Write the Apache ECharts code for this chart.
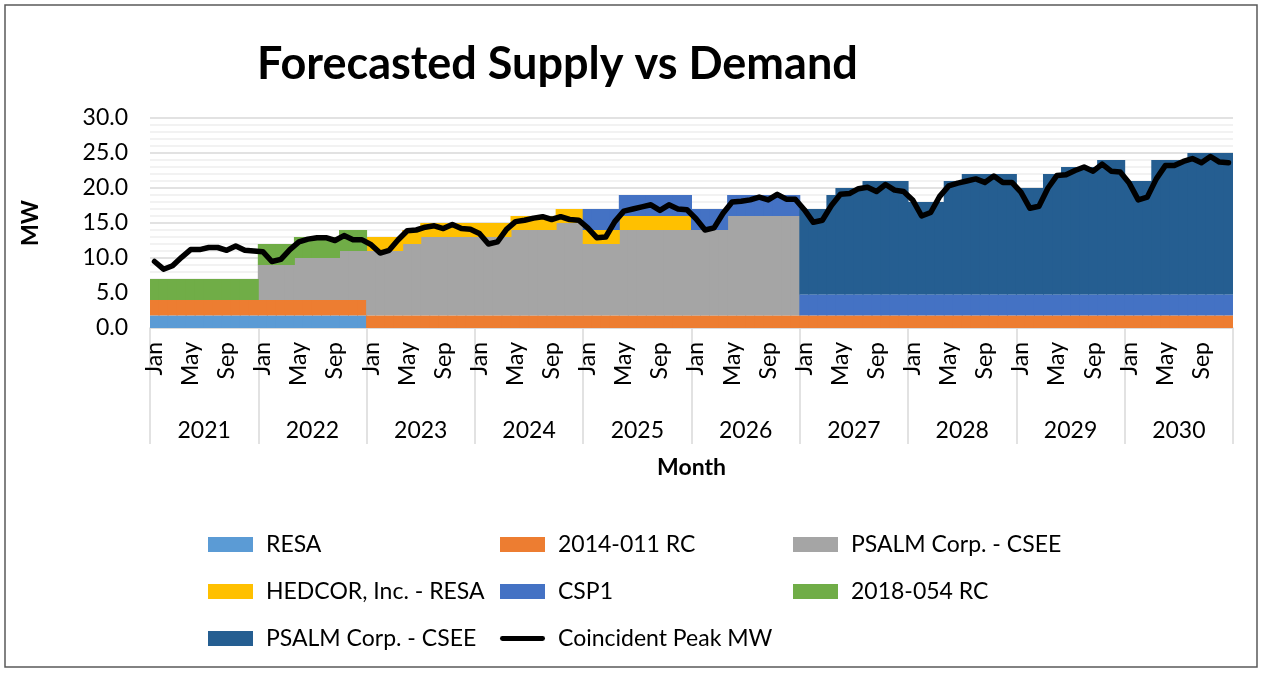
<!DOCTYPE html>
<html>
<head>
<meta charset="utf-8">
<script src="https://cdn.jsdelivr.net/npm/echarts@6/dist/echarts.min.js"></script>
<style>
  html, body { margin: 0; padding: 0; background: #fff; }
  #chart { width: 1263px; height: 673px; }
</style>
</head>
<body>
<div id="chart"></div>
<script>
// tick labels
var years = ['2021', '2022', '2023', '2024', '2025', '2026', '2027', '2028', '2029', '2030']
var monthNames = ['Jan', 'Feb', 'Mar', 'Apr', 'May', 'Jun', 'Jul', 'Aug', 'Sep', 'Oct', 'Nov', 'Dec']

// supply blocks, MW per month (one row per year)
var resa = [
  1.8, 1.8, 1.8, 1.8, 1.8, 1.8, 1.8, 1.8, 1.8, 1.8, 1.8, 1.8,
  1.8, 1.8, 1.8, 1.8, 1.8, 1.8, 1.8, 1.8, 1.8, 1.8, 1.8, 1.8,
  0, 0, 0, 0, 0, 0, 0, 0, 0, 0, 0, 0,
  0, 0, 0, 0, 0, 0, 0, 0, 0, 0, 0, 0,
  0, 0, 0, 0, 0, 0, 0, 0, 0, 0, 0, 0,
  0, 0, 0, 0, 0, 0, 0, 0, 0, 0, 0, 0,
  0, 0, 0, 0, 0, 0, 0, 0, 0, 0, 0, 0,
  0, 0, 0, 0, 0, 0, 0, 0, 0, 0, 0, 0,
  0, 0, 0, 0, 0, 0, 0, 0, 0, 0, 0, 0,
  0, 0, 0, 0, 0, 0, 0, 0, 0, 0, 0, 0
]
var rc2014 = [
  2.2, 2.2, 2.2, 2.2, 2.2, 2.2, 2.2, 2.2, 2.2, 2.2, 2.2, 2.2,
  2.2, 2.2, 2.2, 2.2, 2.2, 2.2, 2.2, 2.2, 2.2, 2.2, 2.2, 2.2,
  1.8, 1.8, 1.8, 1.8, 1.8, 1.8, 1.8, 1.8, 1.8, 1.8, 1.8, 1.8,
  1.8, 1.8, 1.8, 1.8, 1.8, 1.8, 1.8, 1.8, 1.8, 1.8, 1.8, 1.8,
  1.8, 1.8, 1.8, 1.8, 1.8, 1.8, 1.8, 1.8, 1.8, 1.8, 1.8, 1.8,
  1.8, 1.8, 1.8, 1.8, 1.8, 1.8, 1.8, 1.8, 1.8, 1.8, 1.8, 1.8,
  1.8, 1.8, 1.8, 1.8, 1.8, 1.8, 1.8, 1.8, 1.8, 1.8, 1.8, 1.8,
  1.8, 1.8, 1.8, 1.8, 1.8, 1.8, 1.8, 1.8, 1.8, 1.8, 1.8, 1.8,
  1.8, 1.8, 1.8, 1.8, 1.8, 1.8, 1.8, 1.8, 1.8, 1.8, 1.8, 1.8,
  1.8, 1.8, 1.8, 1.8, 1.8, 1.8, 1.8, 1.8, 1.8, 1.8, 1.8, 1.8
]
var psalmCsee = [
  0, 0, 0, 0, 0, 0, 0, 0, 0, 0, 0, 0,
  5, 5, 5, 5, 6, 6, 6, 6, 6, 7, 7, 7,
  9.2, 9.2, 9.2, 9.2, 10.2, 10.2, 11.2, 11.2, 11.2, 11.2, 11.2, 11.2,
  11.2, 11.2, 11.2, 11.2, 12.2, 12.2, 12.2, 12.2, 12.2, 13.2, 13.2, 13.2,
  10.2, 10.2, 10.2, 10.2, 12.2, 12.2, 12.2, 12.2, 12.2, 12.2, 12.2, 12.2,
  12.2, 12.2, 12.2, 12.2, 14.2, 14.2, 14.2, 14.2, 14.2, 14.2, 14.2, 14.2,
  0, 0, 0, 0, 0, 0, 0, 0, 0, 0, 0, 0,
  0, 0, 0, 0, 0, 0, 0, 0, 0, 0, 0, 0,
  0, 0, 0, 0, 0, 0, 0, 0, 0, 0, 0, 0,
  0, 0, 0, 0, 0, 0, 0, 0, 0, 0, 0, 0
]
var hedcor = [
  0, 0, 0, 0, 0, 0, 0, 0, 0, 0, 0, 0,
  0, 0, 0, 0, 0, 0, 0, 0, 0, 0, 0, 0,
  2, 2, 2, 2, 2, 2, 2, 2, 2, 2, 2, 2,
  2, 2, 2, 2, 2, 2, 2, 2, 2, 2, 2, 2,
  2, 2, 2, 2, 2, 2, 2, 2, 2, 2, 2, 2,
  0, 0, 0, 0, 0, 0, 0, 0, 0, 0, 0, 0,
  0, 0, 0, 0, 0, 0, 0, 0, 0, 0, 0, 0,
  0, 0, 0, 0, 0, 0, 0, 0, 0, 0, 0, 0,
  0, 0, 0, 0, 0, 0, 0, 0, 0, 0, 0, 0,
  0, 0, 0, 0, 0, 0, 0, 0, 0, 0, 0, 0
]
var csp1 = [
  0, 0, 0, 0, 0, 0, 0, 0, 0, 0, 0, 0,
  0, 0, 0, 0, 0, 0, 0, 0, 0, 0, 0, 0,
  0, 0, 0, 0, 0, 0, 0, 0, 0, 0, 0, 0,
  0, 0, 0, 0, 0, 0, 0, 0, 0, 0, 0, 0,
  3, 3, 3, 3, 3, 3, 3, 3, 3, 3, 3, 3,
  3, 3, 3, 3, 3, 3, 3, 3, 3, 3, 3, 3,
  3, 3, 3, 3, 3, 3, 3, 3, 3, 3, 3, 3,
  3, 3, 3, 3, 3, 3, 3, 3, 3, 3, 3, 3,
  3, 3, 3, 3, 3, 3, 3, 3, 3, 3, 3, 3,
  3, 3, 3, 3, 3, 3, 3, 3, 3, 3, 3, 3
]
var rc2018 = [
  3, 3, 3, 3, 3, 3, 3, 3, 3, 3, 3, 3,
  3, 3, 3, 3, 3, 3, 3, 3, 3, 3, 3, 3,
  0, 0, 0, 0, 0, 0, 0, 0, 0, 0, 0, 0,
  0, 0, 0, 0, 0, 0, 0, 0, 0, 0, 0, 0,
  0, 0, 0, 0, 0, 0, 0, 0, 0, 0, 0, 0,
  0, 0, 0, 0, 0, 0, 0, 0, 0, 0, 0, 0,
  0, 0, 0, 0, 0, 0, 0, 0, 0, 0, 0, 0,
  0, 0, 0, 0, 0, 0, 0, 0, 0, 0, 0, 0,
  0, 0, 0, 0, 0, 0, 0, 0, 0, 0, 0, 0,
  0, 0, 0, 0, 0, 0, 0, 0, 0, 0, 0, 0
]
var psalmCsee2 = [
  0, 0, 0, 0, 0, 0, 0, 0, 0, 0, 0, 0,
  0, 0, 0, 0, 0, 0, 0, 0, 0, 0, 0, 0,
  0, 0, 0, 0, 0, 0, 0, 0, 0, 0, 0, 0,
  0, 0, 0, 0, 0, 0, 0, 0, 0, 0, 0, 0,
  0, 0, 0, 0, 0, 0, 0, 0, 0, 0, 0, 0,
  0, 0, 0, 0, 0, 0, 0, 0, 0, 0, 0, 0,
  12.2, 12.2, 12.2, 14.2, 15.2, 15.2, 15.2, 16.2, 16.2, 16.2, 16.2, 16.2,
  13.2, 13.2, 13.2, 13.2, 16.2, 16.2, 17.2, 17.2, 17.2, 17.2, 17.2, 17.2,
  15.2, 15.2, 15.2, 17.2, 17.2, 18.2, 18.2, 18.2, 18.2, 19.2, 19.2, 19.2,
  16.2, 16.2, 16.2, 19.2, 19.2, 19.2, 19.2, 20.2, 20.2, 20.2, 20.2, 20.2
]
// demand
var peakMW = [
  9.5, 8.4, 8.9, 10.1, 11.2, 11.2, 11.5, 11.5, 11.1, 11.7, 11.1, 11.0,
  10.9, 9.5, 9.8, 11.2, 12.3, 12.7, 12.9, 12.9, 12.5, 13.2, 12.6, 12.6,
  11.9, 10.7, 11.1, 12.6, 13.9, 14.0, 14.4, 14.6, 14.2, 14.8, 14.2, 14.1,
  13.5, 12.0, 12.3, 14.1, 15.2, 15.4, 15.7, 15.9, 15.5, 15.9, 15.5, 15.4,
  14.3, 12.9, 13.0, 15.2, 16.7, 17.0, 17.3, 17.6, 16.8, 17.6, 17.0, 16.9,
  15.6, 14.0, 14.3, 16.4, 18.0, 18.1, 18.3, 18.7, 18.3, 19.1, 18.4, 18.4,
  16.9, 15.1, 15.4, 17.5, 19.1, 19.2, 19.9, 20.1, 19.5, 20.5, 19.7, 19.5,
  18.3, 16.0, 16.5, 18.8, 20.3, 20.7, 21.0, 21.3, 20.8, 21.7, 20.8, 20.8,
  19.4, 17.1, 17.4, 20.0, 21.8, 21.9, 22.5, 23.0, 22.4, 23.4, 22.4, 22.3,
  20.7, 18.3, 18.7, 21.3, 23.2, 23.2, 23.8, 24.2, 23.6, 24.5, 23.7, 23.6
]

var categories = []
years.forEach(function (y) {
  monthNames.forEach(function (m) { categories.push(y + ' ' + m) })
})

var font = 'Lato'
var chart = echarts.init(document.getElementById('chart'))

function block(name, data, color) {
  return {
    name: name, type: 'bar', stack: 'supply', data: data,
    barWidth: 10, // a bit wider than a month so no seams show
    itemStyle: { color: color, borderWidth: 0 },
    animation: false
  }
}

var legendText = { fontFamily: font, fontSize: 23, color: '#000', padding: [0, 0, 0, 8] }
function legendCol(left, names) {
  return {
    orient: 'vertical', left: left, top: 528,
    itemWidth: 45, itemHeight: 15, itemGap: 24,
    icon: 'rect',
    textStyle: legendText,
    formatter: function (n) { return n.trim() },
    selectedMode: false,
    data: names
  }
}

chart.setOption({
  backgroundColor: '#fff',
  animation: false,
  title: {
    text: 'Forecasted Supply vs Demand',
    left: 252, top: 37,
    textStyle: { fontFamily: font, fontSize: 45, fontWeight: 'bold', color: '#000' }
  },
  graphic: [{
    type: 'rect', silent: true,
    shape: { x: 5, y: 5, width: 1252, height: 662 },
    style: { fill: 'none', stroke: '#595959', lineWidth: 1.5 }
  }],
  legend: [
    legendCol(203, ['RESA', 'HEDCOR, Inc. - RESA', 'PSALM Corp. - CSEE ']),
    legendCol(495, ['2014-011 RC', 'CSP1', { name: 'Coincident Peak MW', icon: 'path://M2,5 L43,5 A2.5,2.5 0 0 1 43,10 L2,10 A2.5,2.5 0 0 1 2,5 Z' }]),
    legendCol(788, ['PSALM Corp. - CSEE', '2018-054 RC'])
  ],
  grid: { left: 150, right: 30, top: 118, bottom: 345 },
  xAxis: [{
    type: 'category', data: categories,
    axisLine: { lineStyle: { color: '#d9d9d9', width: 1.5 } },
    axisTick: { show: false },
    axisLabel: {
      interval: 3, rotate: 90, margin: 14,
      fontFamily: font, fontSize: 23, color: '#000',
      formatter: function (v) { return v.split(' ')[1] }
    },
    name: 'Month', nameLocation: 'middle', nameGap: 128,
    nameTextStyle: { fontFamily: font, fontSize: 23, fontWeight: 'bold', color: '#000' }
  }, {
    type: 'category', data: years, position: 'bottom',
    axisLine: { show: false },
    axisTick: { show: true, interval: 0, length: 116, lineStyle: { color: '#d9d9d9', width: 1.5 } },
    axisLabel: { interval: 0, margin: 91, fontFamily: font, fontSize: 23, color: '#000' }
  }],
  yAxis: {
    type: 'value', min: 0, max: 30, interval: 5,
    axisLine: { show: false }, axisTick: { show: false },
    axisLabel: {
      margin: 22, fontFamily: font, fontSize: 23, color: '#000',
      formatter: function (v) { return v.toFixed(1) }
    },
    splitLine: { lineStyle: { color: '#d9d9d9', width: 1.5 } },
    minorTick: { show: false, splitNumber: 5 },
    minorSplitLine: { show: true, lineStyle: { color: '#eeeeee', width: 1.5 } },
    name: 'MW', nameLocation: 'middle', nameGap: 108,
    nameTextStyle: { fontFamily: font, fontSize: 23, fontWeight: 'bold', color: '#000' }
  },
  series: [
    block('RESA', resa, '#5B9BD5'),
    block('2014-011 RC', rc2014, '#ED7D31'),
    block('PSALM Corp. - CSEE', psalmCsee, '#A5A5A5'),
    block('HEDCOR, Inc. - RESA', hedcor, '#FFC000'),
    block('CSP1', csp1, '#4472C4'),
    block('2018-054 RC', rc2018, '#70AD47'),
    block('PSALM Corp. - CSEE ', psalmCsee2, '#255E91'),
    {
      name: 'Coincident Peak MW', type: 'line', data: peakMW,
      symbol: 'none', smooth: false,
      lineStyle: { color: '#000', width: 5.5, join: 'round', cap: 'round' },
      itemStyle: { color: '#000' },
      z: 5
    }
  ]
})
</script>
</body>
</html>
